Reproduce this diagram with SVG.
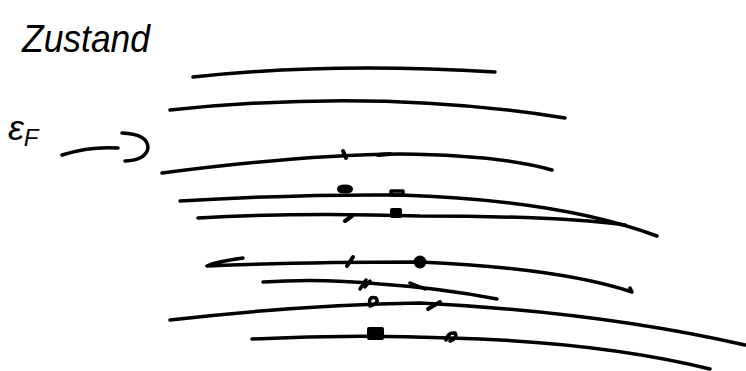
<svg xmlns="http://www.w3.org/2000/svg" width="746" height="371" viewBox="0 0 746 371">
<style>
.s{fill:none;stroke:#000;stroke-width:3.5;stroke-linecap:round;stroke-linejoin:round}
.m{fill:#000;stroke:#000;stroke-width:4;stroke-linecap:round;stroke-linejoin:round}
.t{font-family:"Liberation Sans",Arial,sans-serif;fill:#000;font-style:italic}
</style>
<rect width="746" height="371" fill="#fff"/>
<text class="t" x="22" y="52" font-size="38" textLength="128" lengthAdjust="spacingAndGlyphs">Zustand</text>
<text class="t" x="8" y="140" font-size="36">ε<tspan font-size="24" dy="6">F</tspan></text>
<g id="arrow">
<path class="s" d="M62,155 Q90,146 118,148"/>
<path class="s" d="M122,133 Q148,134 148,148 Q146,160 125,161"/>
</g>
<g id="levels">
<path class="s" d="M193,77 Q330,62 495,72"/>
<path class="s" d="M170,110 Q380,88 565,118"/>
<path class="s" d="M162,173 Q300,155 400,154 Q500,155 552,170"/>
<path class="s" d="M180,201 Q300,194 400,195 Q560,200 657,236"/>
<path class="s" d="M198,218 Q300,212 420,216 Q560,216 625,225"/>
<path class="s" d="M243,258 Q215,262 207,266 Q300,262 420,262 Q560,268 632,292 L630,288"/>
<path class="s" d="M263,282 Q320,278 380,284 Q440,288 497,299"/>
<path class="s" d="M170,320 Q300,305 420,303 Q600,312 745,345"/>
<path class="s" d="M252,339 Q350,334 450,338 Q600,342 710,369"/>
</g>
<g id="marks">
<path class="m" d="M343,151 L346,158"/>
<path class="m" d="M378,155 L390,154"/>
<ellipse class="m" cx="345" cy="189" rx="6" ry="2.5"/>
<rect class="s" x="391" y="191" width="12" height="4"/>
<path class="m" d="M345,221 L352,216"/>
<rect class="m" x="392" y="210" width="8" height="6"/>
<path class="m" d="M347,266 L353,257"/>
<circle class="m" cx="420" cy="262" r="4.5"/>
<path class="s" d="M360,289 L366,280 M365,287 L370,281"/>
<path class="s" d="M410,283 L425,289"/>
<path class="s" d="M370,304 Q368,296 376,298 Q380,303 370,306"/>
<path class="m" d="M428,309 L440,302"/>
<rect class="m" x="369" y="329" width="13" height="9"/>
<path class="s" d="M446,340 Q448,332 455,333 Q458,338 450,341"/>
</g>
</svg>
